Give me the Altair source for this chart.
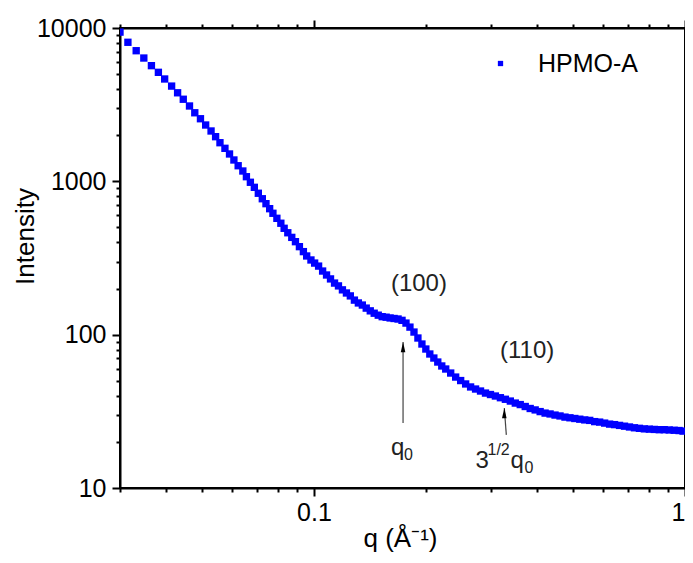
import altair as alt
import pandas as pd

FONT = "Liberation Sans"

# ---- data ----
series_name = "HPMO-A"
q_values = [0.0300, 0.03151, 0.03317, 0.03478, 0.03646, 0.03807, 0.03958, 0.04133, 0.04289, 0.04443,
            0.04618, 0.04772, 0.04943, 0.05105, 0.05279,
            0.05430, 0.05579, 0.05754, 0.05920, 0.06083, 0.06246, 0.06430, 0.06574, 0.06738, 0.06906,
            0.07079, 0.07256, 0.07423, 0.07594, 0.07750, 0.07943, 0.08141, 0.08309, 0.08500, 0.08712,
            0.08913, 0.09135, 0.09363, 0.09557, 0.09813,
            0.1004, 0.1029, 0.1055, 0.1081, 0.1108, 0.1136, 0.1164, 0.1193, 0.1223, 0.1253,
            0.1285, 0.1317, 0.1350, 0.1383, 0.1418, 0.1453, 0.1490, 0.1527, 0.1565, 0.1604,
            0.1644, 0.1685, 0.1727, 0.1770, 0.1814, 0.1860, 0.1906, 0.1954, 0.2002, 0.2052,
            0.2104, 0.2156, 0.2210, 0.2265,
            0.2336, 0.2409, 0.2485, 0.2563, 0.2643, 0.2726, 0.2811, 0.2899, 0.2990, 0.3083,
            0.3180, 0.3280, 0.3382, 0.3488, 0.3597, 0.3710, 0.3826, 0.3946, 0.4070, 0.4197,
            0.4329, 0.4464, 0.4604, 0.4748, 0.4897, 0.5047, 0.5205, 0.5368, 0.5536, 0.5709,
            0.5888, 0.6073, 0.6263, 0.6459, 0.6661, 0.6870, 0.7085, 0.7307, 0.7536, 0.7772,
            0.8015, 0.8266, 0.8525, 0.8792, 0.9067, 0.9351, 0.9639, 0.988]
intensity = [9400, 8070, 7110, 6370, 5680, 5140, 4650, 4180, 3780, 3430,
             3100, 2800, 2560, 2330, 2130,
             1955, 1786, 1642, 1508, 1378, 1264, 1168, 1072, 986, 914,
             836, 770, 715, 663, 619, 574, 533, 494, 462, 431,
             404, 375, 348, 326, 307,
             293, 280, 260, 245, 231, 217, 208, 196, 187, 179,
             168, 161, 156, 149, 143, 138, 134, 131, 130, 128.5,
             127.5, 126.5, 124, 119, 112, 104, 95.1, 86.9, 80.6, 74.8,
             70.4, 66.3, 62.5, 59.7,
             56.2, 52.9, 50.2, 47.7, 45.6, 44.2, 42.9, 41.6, 40.7, 39.8,
             38.8, 37.9, 36.9, 35.8, 35.0, 34.0, 33.0, 32.3, 31.5, 30.8,
             30.4, 29.9, 29.5, 29.0, 28.7, 28.4, 28.1, 27.8, 27.6, 27.1,
             26.9, 26.5, 26.1, 25.9, 25.6, 25.3, 25.0, 24.7, 24.5, 24.3,
             24.2, 24.1, 24.0, 24.0, 23.9, 23.8, 23.7, 23.5]

x_ticks = [0.03, 0.04, 0.05, 0.06, 0.07, 0.08, 0.09, 0.1,
           0.2, 0.3, 0.4, 0.5, 0.6, 0.7, 0.8, 0.9, 1]
y_ticks = [10, 20, 30, 40, 50, 60, 70, 80, 90,
           100, 200, 300, 400, 500, 600, 700, 800, 900,
           1000, 2000, 3000, 4000, 5000, 6000, 7000, 8000, 9000, 10000]

peak_labels = ["(100)", "(110)"]
peak_label_q = [0.1918, 0.3755]
peak_label_I = [214, 78.2]

arrow_q_tail = [0.1738, 0.3299]
arrow_q_tip = [0.1738, 0.3258]
arrow_I_tail = [26.5, 22.2]
arrow_I_tip = [89.6, 33.2]
arrowhead_I = [82.2, 30.5]

q0_q = [0.1613]
q0_I = [16.4]
root_q = [0.2725]
root_I = [13.5]

df = pd.DataFrame({"q": q_values, "I": intensity, "series": series_name})
peaks = pd.DataFrame({"label": peak_labels, "q": peak_label_q, "I": peak_label_I})
arrows = pd.DataFrame({"q": arrow_q_tail, "q2": arrow_q_tip, "I": arrow_I_tail,
                       "I2": arrow_I_tip, "Ih": arrowhead_I})
q0df = pd.DataFrame({"q": q0_q, "I": q0_I})
rootdf = pd.DataFrame({"q": root_q, "I": root_I})

xs = alt.Scale(type="log", domain=[0.03, 1], nice=False)
ys = alt.Scale(type="log", domain=[10, 10000], nice=False)

MAJOR = "abs(log(datum.value)/LN10 - round(log(datum.value)/LN10)) < 0.001"
tick_size = {"condition": {"test": MAJOR, "value": 8}, "value": 4}

common_axis = dict(tickSize=tick_size, tickWidth=2, tickColor="black",
                   domainColor="black", domainWidth=2, grid=False,
                   labelFont=FONT, labelFontSize=25, labelColor="black",
                   titleFont=FONT, titleFontSize=26, titleFontWeight="normal",
                   titleColor="black", labelOverlap=False)

bottom_axis = alt.Axis(orient="bottom", values=x_ticks,
                       labelExpr="datum.value == 0.1 ? '0.1' : (datum.value == 1 ? '1' : '')",
                       labelPadding=4, labelFlush=True, title="q (Å⁻¹)", titleX=280, titleY=58,
                       titleBaseline="alphabetic", titleAlign="center", **common_axis)
top_axis = alt.Axis(orient="top", values=x_ticks, labels=False, title="", **common_axis)
left_axis = alt.Axis(orient="left", values=y_ticks,
                     labelExpr=MAJOR + " ? format(datum.value, 'd') : ''",
                     labelPadding=6, labelFlush=False, title="Intensity", titleAngle=270,
                     titleX=-87, titleY=208, titleBaseline="alphabetic", titleAlign="center",
                     **common_axis)


def Y(field):
    return alt.Y(field, scale=ys, axis=left_axis)


top_layer = alt.Chart(df).mark_point(opacity=0).encode(
    x=alt.X("q:Q", scale=xs, axis=top_axis), y=Y("I:Q"))

points = alt.Chart(df).mark_square(size=54, opacity=1, clip=True).encode(
    x=alt.X("q:Q", scale=xs, axis=bottom_axis),
    y=Y("I:Q"),
    color=alt.Color("series:N", scale=alt.Scale(range=["#0000ff"]),
                    legend=alt.Legend(orient="none", legendX=368, legendY=23, title=None,
                                      symbolType="square", symbolSize=28, symbolStrokeWidth=0,
                                      labelFont=FONT, labelFontSize=25, labelColor="black",
                                      labelOffset=25, padding=0)))

peak_text = alt.Chart(peaks).mark_text(font=FONT, fontSize=24, color="#222222",
                                       align="center", baseline="middle").encode(
    x=alt.X("q:Q", scale=xs, axis=None), y=Y("I:Q"), text="label:N")

arrow_lines = alt.Chart(arrows).mark_rule(color="#444444", strokeWidth=1.2).encode(
    x=alt.X("q:Q", scale=xs, axis=None), x2="q2:Q",
    y=Y("I:Q"), y2="I2:Q")

arrow_heads = alt.Chart(arrows).mark_point(shape="M0,-1L0.4,0.8L-0.4,0.8Z", filled=True,
                                           size=130, color="black", opacity=1,
                                           strokeWidth=0).encode(
    x=alt.X("q2:Q", scale=xs, axis=None), y=Y("Ih:Q"))


def piece(data, txt, size, dx=0, dy=0):
    return alt.Chart(data).mark_text(font=FONT, fontSize=size, color="#222222", align="left",
                                     baseline="alphabetic", dx=dx, dy=dy, text=txt).encode(
        x=alt.X("q:Q", scale=xs, axis=None), y=Y("I:Q"))


q0_main = piece(q0df, "q", 24)
q0_sub = piece(q0df, "0", 16, dx=13, dy=5)
r_3 = piece(rootdf, "3", 24)
r_sup = piece(rootdf, "1/2", 16, dx=12, dy=-13)
r_q = piece(rootdf, "q", 24, dx=35)
r_sub = piece(rootdf, "0", 16, dx=49, dy=5)

chart = alt.layer(top_layer, points, arrow_lines, arrow_heads, peak_text,
                  q0_main, q0_sub, r_3, r_sup, r_q, r_sub).resolve_axis(
    x="independent").properties(
    width=565, height=460,
    autosize=alt.AutoSizeParams(type="none"),
    padding={"left": 112, "top": 20, "right": 0, "bottom": 67},
).configure(font=FONT, background="white").configure_view(stroke="black", strokeWidth=2)

chart.save("out.html", embed_options={"renderer": "svg", "actions": False})
